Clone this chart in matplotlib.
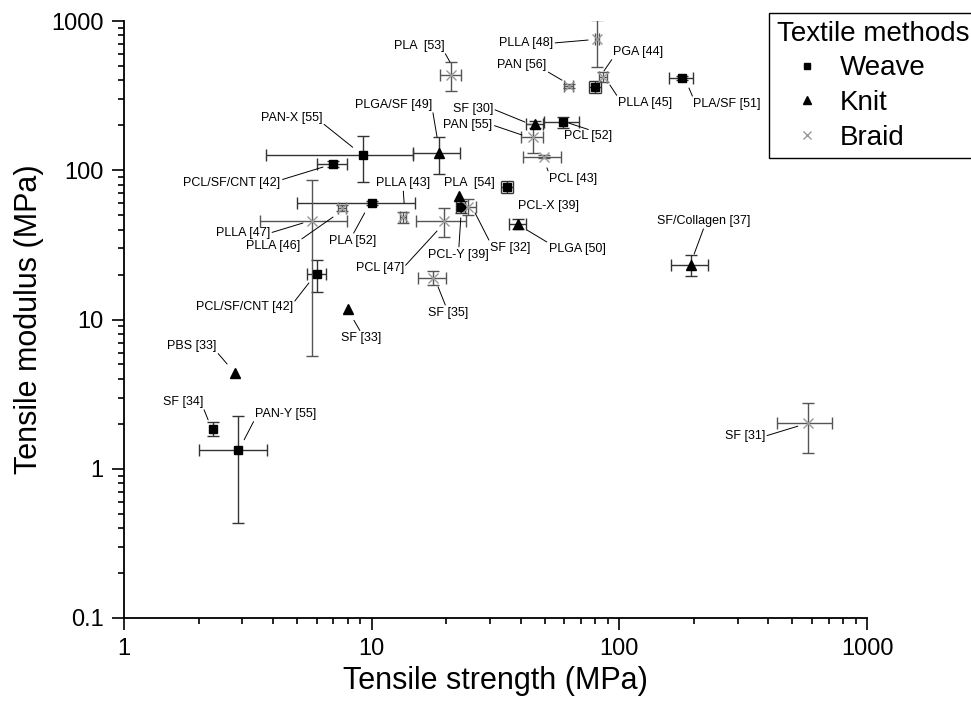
import numpy as np
import matplotlib
matplotlib.use('Agg')
import matplotlib.pyplot as plt
from matplotlib.lines import Line2D
from matplotlib.ticker import FormatStrFormatter, NullFormatter
from matplotlib.transforms import offset_copy

plt.rcParams['font.family'] = ['Liberation Sans', 'DejaVu Sans']

nan = np.nan

# Weave (squares)
names_w = ['PAN-X [55]', 'PCL/SF/CNT [42]', 'PLA [52]', 'PCL/SF/CNT [42]', 'SF [34]', 'PAN-Y [55]',
           'PCL-X [39]', 'PCL [52]', 'PLLA [45]', 'PLA/SF [51]', 'PCL-Y [39]']
x_w = [9.2, 6.98, 10.0, 6.01, 2.29, 2.89, 35.2, 59.2, 79.7, 179, 22.9]
y_w = [126, 110, 60.4, 20.2, 1.85, 1.34, 77.3, 210, 361, 415, 56.8]
xe_w = [5.45, 0.97, 5.0, 0.55, nan, 0.88, 2.0, 9.7, 4.5, 20, 1.0]
ye_w = [43, 5, 2, 4.8, 0.2, 0.91, 7, 18, 34, 10, 5]

# Knit (triangles)
names_k = ['PLGA/SF [49]', 'SF [30]', 'PLA  [54]', 'PLGA [50]', 'SF/Collagen [37]', 'SF [33]', 'PBS [33]']
x_k = [18.7, 45.6, 22.5, 39.0, 195, 8.02, 2.81]
y_k = [131, 204, 67.1, 43.6, 23.2, 11.7, 4.38]
xe_k = [4.0, 3.6, nan, 3.0, 33, nan, nan]
ye_k = [36, 11, nan, 3.5, 3.7, nan, nan]

# Braid (crosses)
names_b = ['PLA  [53]', 'PLLA [48]', 'PAN [56]', 'PGA [44]', 'PAN [55]', 'PCL [43]', 'PLLA [43]',
           'PLLA [46]', 'PLLA [47]', 'PCL [47]', 'SF [32]', 'SF [35]', 'SF [31]']
x_b = [20.9, 81.3, 62.6, 85.9, 44.8, 49.6, 13.4, 7.59, 5.74, 19.6, 24.5, 17.7, 577]
y_b = [435, 757, 366, 422, 167, 123, 48.6, 55.8, 45.7, 45.7, 56.8, 19.0, 2.02]
xe_b = [2.0, 1.5, 2.7, 3.5, 4.6, 8.6, 0.4, 0.3, 2.2, 4.5, 1.8, 2.3, 145]
ye_b = [93, 262, 10, 33, 36, 3, 4, 2.5, 40, 10, 7, 2, 0.75]

# label placement: text offset (px), leader end offset (px), start point on text box
lab_w = [(-71, 37, -10, 8, (1, 0.1)), (-101, -19, -10, -3, (1, 0.75)), (-19, -38, -7, -10, (0.5, 1)),
         (-72, -33, -8, -9, (1, 0.85)), (-30, 27, -5, 9, (1, 0)), (47, 36, 6, 10, (0, 0)),
         (41, -19, None, None, None), (25, -14, 6, -1, (0.55, 1)), (50, -16, 15, 2, (0, 1)),
         (45, -26, 7, -10, (0, 1)), (-2, -48, 0, -11, (0.5, 1))]
lab_k = [(-45, 48, -2, 16, (1, 0)), (-62, 15, -10, 2, (1, 0.5)), (10, 13, None, None, None),
         (59, -25, 9, -6, (0, 1)), (13, 44, 3, 11, (0.5, 0)), (13, -29, 6, -11, (0.5, 1)),
         (-43, 27, -8, 9, (1, 0))]
lab_b = [(-32, 29, -1, 13, (1, 0)), (-71, -4, -9, -1, (1, 0.5)), (-47, 21, -7, 6, (1, 0)),
         (35, 25, 1, 6, (0, 0)), (-65, 12, -11, 2, (1, 0.5)), (29, -22, 3, -11, (0, 1)),
         (0, 34, 1, 14, (0.5, 0)), (-69, -38, -9, -9, (1, 1)), (-69, -12, -9, -2, (1, 0.5)),
         (-64, -47, -7, -10, (1, 0.6)), (42, -41, 7, -6, (0, 1)), (15, -35, 5, -9, (0.45, 1)),
         (-63, -13, -10, -3, (1, 0.5))]

fig = plt.figure(figsize=(9.71, 7.13), dpi=100)
ax = fig.add_axes([124 / 971, 1 - 618 / 713, (867 - 124) / 971, (618 - 21) / 713])
ax.set_xscale('log')
ax.set_yscale('log')
ax.set_xlim(1, 1000)
ax.set_ylim(0.1, 1000)

groups = [
    (x_w, y_w, xe_w, ye_w, dict(marker='s', ms=5.5, color='k'), '#333333'),
    (x_k, y_k, xe_k, ye_k, dict(marker='^', ms=6.5, color='k'), '#333333'),
    (x_b, y_b, xe_b, ye_b, dict(marker='x', ms=6.5, color='#999999', mew=1), '#555555'),
]
for x, y, xe, ye, mk, ec in groups:
    ax.errorbar(x, y, xerr=np.array(xe), yerr=np.array(ye), fmt='none', ecolor=ec,
                elinewidth=1, capsize=4.3, capthick=1, zorder=2)
    ax.plot(x, y, ls='none', zorder=3, **mk)


def label(x, y, name, off):
    dx, dy, ex, ey, rp = off
    if ex is None:
        ax.annotate(name, (x, y), xytext=(dx, dy), textcoords='offset pixels',
                    ha='center', va='center', fontsize=9)
        return
    tr = offset_copy(ax.transData, fig=fig, x=ex, y=ey, units='dots')
    ax.annotate(name, (x, y), xycoords=tr, xytext=(dx - ex, dy - ey), textcoords='offset pixels',
                ha='center', va='center', fontsize=9,
                arrowprops=dict(arrowstyle='-', color='k', lw=0.7, shrinkA=1.5, shrinkB=0,
                                patchA=None, relpos=rp))


for names, xs, ys, labs in [(names_w, x_w, y_w, lab_w), (names_k, x_k, y_k, lab_k), (names_b, x_b, y_b, lab_b)]:
    for n, x, y, off in zip(names, xs, ys, labs):
        label(x, y, n, off)

for s in ['top', 'right']:
    ax.spines[s].set_visible(False)
for s in ['left', 'bottom']:
    ax.spines[s].set_linewidth(1.3)
ax.tick_params(which='major', direction='out', length=8.5, width=1.2, labelsize=17, pad=6)
ax.tick_params(which='minor', direction='out', length=4.5, width=1.2)
ax.xaxis.set_major_formatter(FormatStrFormatter('%g'))
ax.yaxis.set_major_formatter(FormatStrFormatter('%g'))
ax.xaxis.set_minor_formatter(NullFormatter())
ax.yaxis.set_minor_formatter(NullFormatter())
ax.set_xlabel('Tensile strength (MPa)', fontsize=22, labelpad=4)
ax.set_ylabel('Tensile modulus (MPa)', fontsize=22, labelpad=5)

handles = [Line2D([0], [0], marker='s', color='k', ls='none', ms=5),
           Line2D([0], [0], marker='^', color='k', ls='none', ms=6),
           Line2D([0], [0], marker='x', color='#999999', ls='none', ms=6, mew=1)]
leg = fig.legend(handles, ['Weave', 'Knit', 'Braid'], title='Textile methods',
                 loc='upper left', bbox_to_anchor=(769 / 971, 1 - 13 / 713),
                 fontsize=20, title_fontsize=20, frameon=True, fancybox=False,
                 edgecolor='k', framealpha=1, borderaxespad=0, alignment='left',
                 labelspacing=0.31, handlelength=2.16, handletextpad=0.1, borderpad=0.28)
leg.get_frame().set_linewidth(1)

fig.savefig('out.png', dpi=100)
